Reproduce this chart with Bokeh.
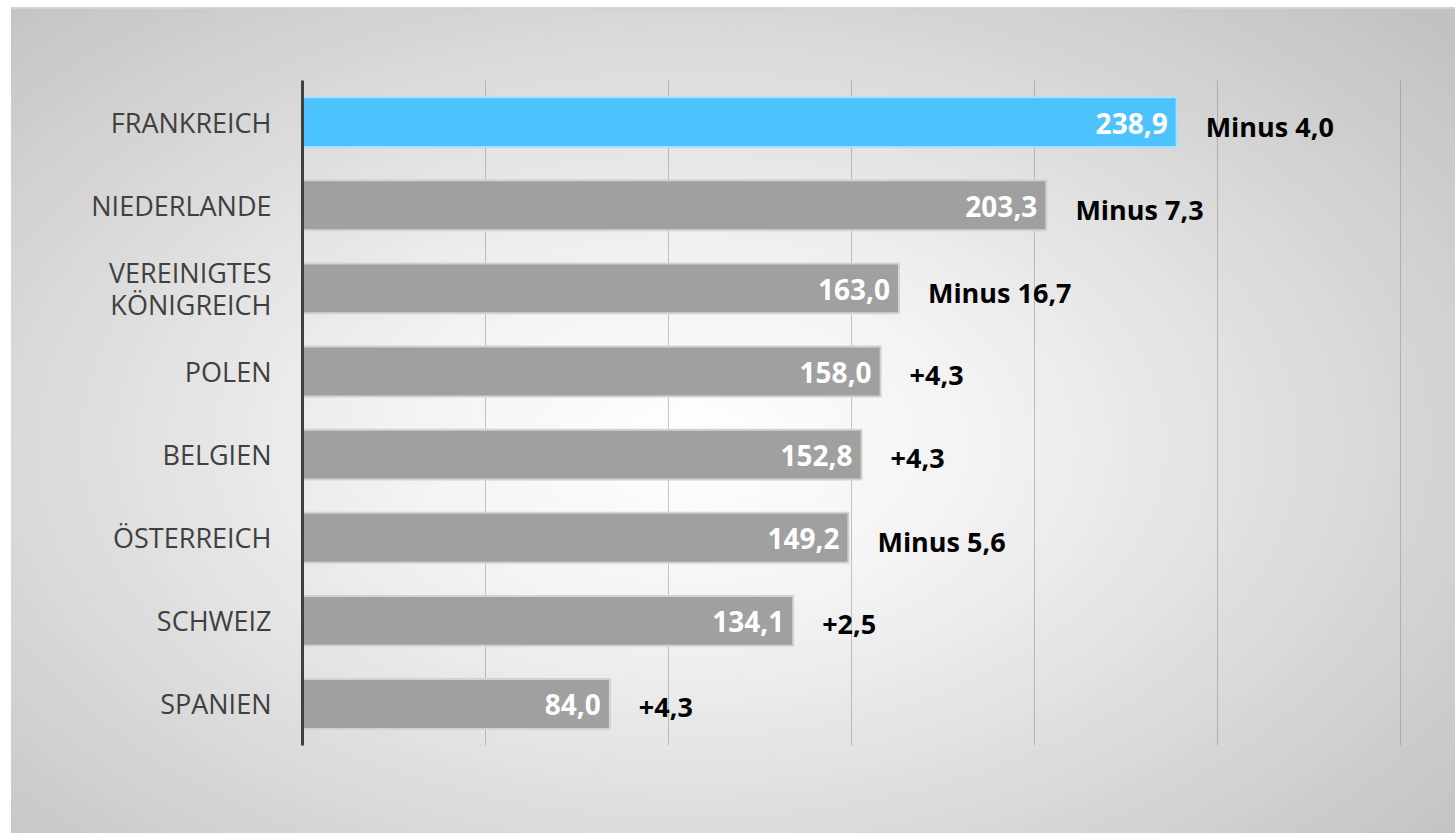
from bokeh.plotting import figure
from bokeh.models import ColumnDataSource, FactorRange, FixedTicker
from bokeh.core.properties import value
from bokeh.embed import file_html
from bokeh.resources import INLINE

countries = ["FRANKREICH", "NIEDERLANDE", "VEREINIGTES\nKÖNIGREICH", "POLEN",
             "BELGIEN", "ÖSTERREICH", "SCHWEIZ", "SPANIEN"]
values = [238.9, 203.3, 163.0, 158.0, 152.8, 149.2, 134.1, 84.0]
value_labels = ["238,9", "203,3", "163,0", "158,0", "152,8", "149,2", "134,1", "84,0"]
changes = ["Minus 4,0", "Minus 7,3", "Minus 16,7", "+4,3", "+4,3", "Minus 5,6", "+2,5", "+4,3"]
grid_ticks = [0, 50, 100, 150, 200, 250, 300]

colors = ["#4CC3FF"] + ["#A0A0A0"] * (len(countries) - 1)
edges = ["#A8E0FF"] + ["#D2D2D2"] * (len(countries) - 1)

src = ColumnDataSource(dict(c=countries, v=values, vl=value_labels, ch=changes,
                            col=colors, edge=edges))

p = figure(width=1444, height=826, output_backend="svg", toolbar_location=None,
           y_range=FactorRange(factors=list(reversed(countries))),
           x_range=(0, 305))
p.margin = (7, 0, 0, 11)
p.styles = {
    "background": "radial-gradient(ellipse 70% 75% at 47% 53%, #ffffff 0%, #f2f2f2 30%, #c2c2c2 100%)",
    "box-shadow": "inset 0 2px 0 #d2d2d2",
}
p.border_fill_color = None
p.background_fill_color = None
p.outline_line_color = None
p.min_border_left = 291
p.min_border_right = 37
p.min_border_top = 73
p.min_border_bottom = 88

p.hbar(y="c", right="v", left=0, height=0.6, source=src, fill_color="col",
       line_color="edge", line_width=2)

p.text(x="v", y="c", text="vl", source=src, text_align="right", text_baseline="middle",
       x_offset=-9, y_offset=1, text_font=value("Open Sans"), text_font_style="bold",
       text_font_size="28px", text_color="white")
p.text(x="v", y="c", text="ch", source=src, text_align="left", text_baseline="middle",
       x_offset=29, y_offset=4, text_font=value("Open Sans"), text_font_style="bold",
       text_font_size="27px", text_color="black")

p.xaxis.visible = False
p.xgrid.ticker = FixedTicker(ticks=grid_ticks)
p.xgrid.grid_line_color = "#808080"
p.xgrid.grid_line_alpha = 0.45
p.xgrid.grid_line_width = 1
p.ygrid.grid_line_color = None

ya = p.yaxis[0]
ya.axis_line_color = "#404040"
ya.axis_line_width = 3
ya.major_tick_line_color = None
ya.minor_tick_line_color = None
ya.major_label_standoff = 25
ya.major_label_text_font = "Open Sans"
ya.major_label_text_font_size = "27px"
ya.major_label_text_color = "#404040"
ya.major_label_text_font_style = "normal"
ya.major_label_text_line_height = 0.85

open("out.html", "w").write(file_html(p, INLINE))
